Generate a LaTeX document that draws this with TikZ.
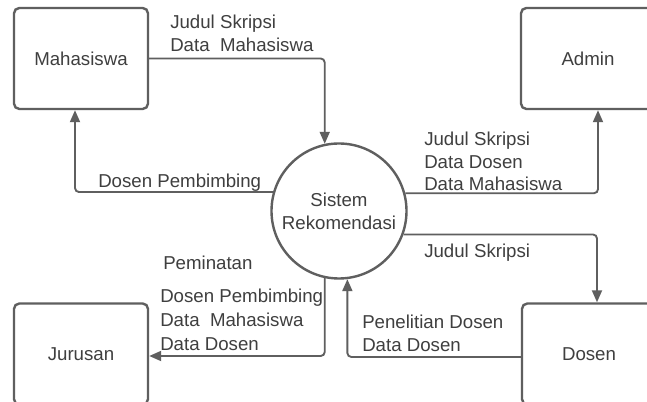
\documentclass[tikz,border=0pt]{standalone}
\usepackage{fontspec}
\setmainfont{Liberation Sans}
\usetikzlibrary{arrows.meta,calc}
\definecolor{linegray}{HTML}{5F5F5F}
\definecolor{textgray}{HTML}{3F3F3F}

\begin{document}
\begin{tikzpicture}[x=0.75pt,y=-0.75pt,
  every node/.style={font=\fontsize{14}{17}\selectfont, text=textgray},
  entity/.style={draw=linegray, line width=1.8pt, rounded corners=4pt,
    minimum width=100.5pt, minimum height=75.75pt, inner sep=0pt},
  process/.style={circle, draw=linegray, line width=1.8pt,
    minimum size=101.25pt, inner sep=0pt, align=center},
  flow/.style={draw=linegray, line width=1.4pt, rounded corners=3pt,
    -{Triangle[length=9pt,width=7.5pt]}},
  lbl/.style={anchor=west, align=left, inner sep=0pt}]

% canvas
\useasboundingbox (0,0) rectangle (647,402);
\fill[white] (0,0) rectangle (647,402);
\clip (0,0) rectangle (647,402);

% external entities and the process
\node[entity] (mhs) at (81,58.5) {Mahasiswa};
\node[entity] (adm) at (588,58.5) {Admin};
\node[entity] (jur) at (81,354) {Jurusan};
\node[entity] (dos) at (589,354) {Dosen};
\node[process] (sys) at (339,211) {Sistem\\Rekomendasi};

% data flows
\draw[flow] (mhs.east) -| (sys.102);
\draw[flow] (sys.164.5) -| ($(mhs.south)+(-6,0)$);
\draw[flow] (sys.15.5) -| ($(adm.south)+(10,0)$);
\draw[flow] (sys.-20.8) -| ($(dos.north)+(8,0)$);
\draw[flow] ($(dos.west)+(0,3)$) -| (sys.277.7);
\draw[flow] (sys.258.9) |- ($(jur.east)+(0,2)$);

% flow labels
\node[lbl] (l1) at (170,33.5) {Judul Skripsi\\Data\ \ Mahasiswa};
\node[lbl] (l2) at (98,183) {Dosen Pembimbing};
\node[lbl] (l3) at (424,161.5) {Judul Skripsi\\Data Dosen\\Data Mahasiswa};
\node[lbl] (l4) at (424,253) {Judul Skripsi};
\node[lbl] (l5) at (163,263) {Peminatan};
\node[lbl, font=\fontsize{14}{18}\selectfont] (l6) at (160,320) {Dosen Pembimbing\\Data\ \ Mahasiswa\\Data Dosen};
\node[lbl] (l7) at (362,333) {Penelitian Dosen\\Data Dosen};
\end{tikzpicture}
\end{document}
